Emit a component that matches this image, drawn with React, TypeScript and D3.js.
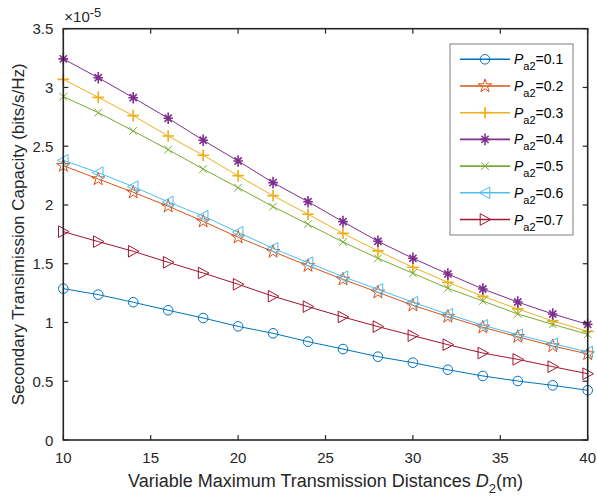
import React from 'react';
import * as d3 from 'd3';

const distances = [10, 12, 14, 16, 18, 20, 22, 24, 26, 28, 30, 32, 34, 36, 38, 40];

const pa01 = [1.288, 1.237, 1.172, 1.104, 1.038, 0.967, 0.908, 0.837, 0.774, 0.709, 0.658, 0.598, 0.545, 0.502, 0.465, 0.423];
const pa02 = [2.335, 2.221, 2.108, 1.989, 1.861, 1.725, 1.603, 1.483, 1.367, 1.257, 1.146, 1.050, 0.959, 0.879, 0.800, 0.732];
const pa03 = [3.069, 2.916, 2.760, 2.587, 2.423, 2.249, 2.079, 1.921, 1.759, 1.609, 1.470, 1.342, 1.223, 1.115, 1.013, 0.925];
const pa04 = [3.243, 3.083, 2.913, 2.738, 2.551, 2.374, 2.190, 2.028, 1.858, 1.691, 1.546, 1.413, 1.285, 1.174, 1.072, 0.984];
const pa05 = [2.922, 2.786, 2.630, 2.471, 2.306, 2.147, 1.986, 1.836, 1.685, 1.546, 1.419, 1.291, 1.183, 1.072, 0.984, 0.899];
const pa06 = [2.380, 2.275, 2.156, 2.026, 1.906, 1.768, 1.631, 1.509, 1.390, 1.282, 1.172, 1.070, 0.976, 0.896, 0.820, 0.749];
const pa07 = [1.773, 1.688, 1.606, 1.512, 1.421, 1.325, 1.223, 1.135, 1.047, 0.965, 0.888, 0.811, 0.740, 0.686, 0.624, 0.564];

const seriesNames = ['0.1', '0.2', '0.3', '0.4', '0.5', '0.6', '0.7'];
const seriesValues = [pa01, pa02, pa03, pa04, pa05, pa06, pa07];
const seriesColors = ['#0072BD', '#D95319', '#EDB120', '#7E2F8E', '#77AC30', '#4DBEEE', '#A2142F'];
const seriesMarkers = ['circle', 'star', 'plus', 'asterisk', 'cross', 'triLeft', 'triRight'];

const xTicks = [10, 15, 20, 25, 30, 35, 40];
const yTicks = [0, 0.5, 1, 1.5, 2, 2.5, 3, 3.5];

const W = 597, H = 496;
const margin = {left: 63.3, right: 9.3, top: 28.7, bottom: 56};
const axisColor = '#262626';
const font = 'Arial, "Liberation Sans", Helvetica, sans-serif';

function Marker({type, x, y, color}: {type: string, x: number, y: number, color: string}) {
    const r = 4.8;
    const common = {fill: 'none', stroke: color, strokeWidth: 1};
    switch (type) {
        case 'circle':
            return <circle cx={x} cy={y} r={r} {...common}/>;
        case 'star': {
            const star = d3.symbol(d3.symbolStar, 55)();
            return <path d={star || ''} transform={`translate(${x},${y})`} {...common}/>;
        }
        case 'plus':
            return <path d={`M${x - r - 1},${y}H${x + r + 1}M${x},${y - r - 1}V${y + r + 1}`} {...common} strokeWidth={1.7}/>;
        case 'asterisk': {
            const d = r * 0.75;
            return <path d={`M${x - r},${y}H${x + r}M${x},${y - r - 1}V${y + r + 1}M${x - d},${y - d}L${x + d},${y + d}M${x - d},${y + d}L${x + d},${y - d}`} {...common} strokeWidth={1.6}/>;
        }
        case 'cross': {
            const d = r * 0.8;
            return <path d={`M${x - d},${y - d}L${x + d},${y + d}M${x - d},${y + d}L${x + d},${y - d}`} {...common}/>;
        }
        case 'triLeft':
            return <path d={`M${x - r - 1},${y}L${x + r},${y - r - 1}L${x + r},${y + r + 1}Z`} {...common}/>;
        case 'triRight':
            return <path d={`M${x + r + 1},${y}L${x - r},${y - r - 1}L${x - r},${y + r + 1}Z`} {...common}/>;
        default:
            return null;
    }
}

export default function App() {
    const x = d3.scaleLinear().domain([10, 40]).range([margin.left, W - margin.right]);
    const y = d3.scaleLinear().domain([0, 3.5]).range([H - margin.bottom, margin.top]);
    const line = d3.line<number>().x((_, i) => x(distances[i])).y(d => y(d));

    const x0 = x.range()[0], x1 = x.range()[1];
    const y0 = y.range()[0], y1 = y.range()[1];
    const tickLen = 5;

    const legX = 450, legY = 44, legW = 123, legH = 191;
    const rowH = 26.7;

    return (
        <svg width={W} height={H} style={{position: 'absolute', left: 0, top: 0, background: '#fff'}}
             fontFamily={font}>
            <rect x={0} y={0} width={W} height={H} fill="#fff"/>

            {seriesValues.map((vals, si) => (
                <g key={si}>
                    <path d={line(vals) || ''} fill="none" stroke={seriesColors[si]} strokeWidth={1}/>
                    {vals.map((v, i) => (
                        <Marker key={i} type={seriesMarkers[si]} x={x(distances[i])} y={y(v)} color={seriesColors[si]}/>
                    ))}
                </g>
            ))}

            {/* box and ticks */}
            <rect x={x0} y={y1} width={x1 - x0} height={y0 - y1} fill="none" stroke={axisColor} strokeWidth={1.6}/>
            {xTicks.map(t => (
                <g key={'x' + t}>
                    <line x1={x(t)} x2={x(t)} y1={y0} y2={y0 - tickLen} stroke={axisColor} strokeWidth={1.2}/>
                    <line x1={x(t)} x2={x(t)} y1={y1} y2={y1 + tickLen} stroke={axisColor} strokeWidth={1.2}/>
                    <text x={x(t)} y={y0 + 23.3} textAnchor="middle" fontSize={15} fill={axisColor}>{t}</text>
                </g>
            ))}
            {yTicks.map(t => (
                <g key={'y' + t}>
                    <line x1={x0} x2={x0 + tickLen} y1={y(t)} y2={y(t)} stroke={axisColor} strokeWidth={1.2}/>
                    <line x1={x1} x2={x1 - tickLen} y1={y(t)} y2={y(t)} stroke={axisColor} strokeWidth={1.2}/>
                    <text x={x0 - 10} y={y(t) + 5.5} textAnchor="end" fontSize={15} fill={axisColor}>{t}</text>
                </g>
            ))}

            <text x={x0 + 1} y={y1 - 7} fontSize={15} fill={axisColor}>
                ×10<tspan dy={-5} fontSize={13}>-5</tspan>
            </text>

            <text x={x((10 + 40) / 2)} y={487.3} textAnchor="middle" fontSize={18} fill={axisColor}>
                Variable Maximum Transmission Distances <tspan fontStyle="italic">D</tspan>
                <tspan fontSize={13} dy={6}>2</tspan><tspan dy={-6}>(m)</tspan>
            </text>
            <text transform={`translate(24,${(y0 + y1) / 2}) rotate(-90)`} textAnchor="middle" fontSize={17}
                  fill={axisColor}>
                Secondary Transimission Capacity (bits/s/Hz)
            </text>

            {/* legend */}
            <rect x={legX} y={legY} width={legW} height={legH} fill="#fff" stroke="#7f7f7f" strokeWidth={1}/>
            {seriesNames.map((name, i) => {
                const cy = legY + 15.3 + i * rowH;
                return (
                    <g key={name}>
                        <line x1={460} x2={510} y1={cy} y2={cy} stroke={seriesColors[i]} strokeWidth={1.6}/>
                        <Marker type={seriesMarkers[i]} x={485} y={cy} color={seriesColors[i]}/>
                        <text x={514} y={cy + 5} fontSize={14} fill="#000">
                            <tspan fontStyle="italic">P</tspan>
                            <tspan fontSize={11} dy={6}>a2</tspan>
                            <tspan dy={-6}>={name}</tspan>
                        </text>
                    </g>
                );
            })}
        </svg>
    );
}
